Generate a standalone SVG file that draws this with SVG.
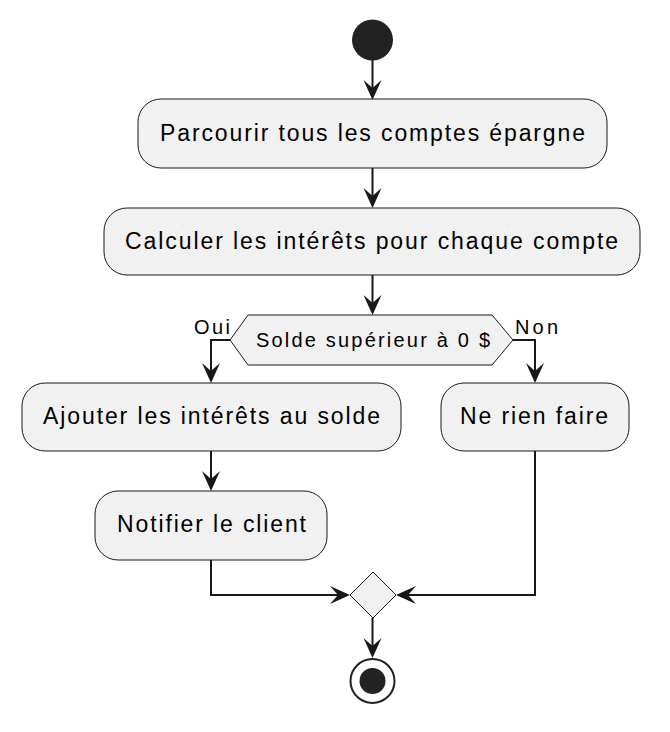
<svg xmlns="http://www.w3.org/2000/svg" width="670" height="732" viewBox="0 0 670 732">
<defs>
<style>
.box{fill:#F1F1F1;stroke:#181818;stroke-width:1}
.t{font-family:"Liberation Sans",Arial,sans-serif;font-size:23px;fill:#000}
.lbl{font-family:"Liberation Sans",Arial,sans-serif;font-size:20px;fill:#000}
.ln{fill:none;stroke:#181818;stroke-width:2}
.ah{fill:#181818}
</style>
</defs>
<rect width="670" height="732" fill="#FFFFFF"/>
<g id="start"><circle cx="372.5" cy="40" r="20.5" fill="#222222"/></g>
<g id="n1"><rect class="box" x="138" y="99" width="469" height="69" rx="23"/><text class="t" x="160" y="141" textLength="425" lengthAdjust="spacing">Parcourir tous les comptes épargne</text></g>
<g id="n2"><rect class="box" x="104" y="208" width="536" height="67" rx="23"/><text class="t" x="125" y="249" textLength="493" lengthAdjust="spacing">Calculer les intérêts pour chaque compte</text></g>
<g id="d1"><polygon class="box" points="230,340 248,315 492,315 513,340 492,365 248,365"/><text class="t" x="256" y="347" style="font-size:20px" textLength="234" lengthAdjust="spacing">Solde supérieur à 0 $</text></g>
<g id="n3"><rect class="box" x="22" y="383" width="379" height="68" rx="23"/><text class="t" x="43" y="424" textLength="337" lengthAdjust="spacing">Ajouter les intérêts au solde</text></g>
<g id="n4"><rect class="box" x="441" y="383" width="188" height="68" rx="23"/><text class="t" x="460" y="424" textLength="148" lengthAdjust="spacing">Ne rien faire</text></g>
<g id="n5"><rect class="box" x="95" y="491" width="232" height="69" rx="23"/><text class="t" x="117" y="532" textLength="189" lengthAdjust="spacing">Notifier le client</text></g>
<g id="merge"><polygon class="box" points="373,572 396,595 373,618 350,595"/></g>
<g id="end"><circle cx="372.5" cy="681" r="22" fill="none" stroke="#222222" stroke-width="2"/><circle cx="372.5" cy="681" r="13" fill="#222222"/></g>
<g id="connectors">
<path class="ln" d="M372.5,60 V90"/>
<polygon class="ah" points="372.5,100 363.5,80 372.5,88 381.5,80"/>
<path class="ln" d="M372.5,168 V198"/>
<polygon class="ah" points="372.5,208 363.5,188 372.5,196 381.5,188"/>
<path class="ln" d="M372.5,275 V305"/>
<polygon class="ah" points="372.5,315 363.5,295 372.5,303 381.5,295"/>
<path class="ln" d="M230,340 H211 V373"/>
<polygon class="ah" points="211,383 202,363 211,371 220,363"/>
<text class="lbl" x="194" y="334" textLength="36" lengthAdjust="spacing">Oui</text>
<path class="ln" d="M513,340 H535 V373"/>
<polygon class="ah" points="535,383 526,363 535,371 544,363"/>
<text class="lbl" x="515" y="334" textLength="43" lengthAdjust="spacing">Non</text>
<path class="ln" d="M211,451 V481"/>
<polygon class="ah" points="211,491 202,471 211,479 220,471"/>
<path class="ln" d="M211,560 V595 H340"/>
<polygon class="ah" points="350,595 330,586 338,595 330,604"/>
<path class="ln" d="M535,451 V595 H406"/>
<polygon class="ah" points="396,595 416,586 408,595 416,604"/>
<path class="ln" d="M372.5,618 V648"/>
<polygon class="ah" points="372.5,658 363.5,638 372.5,646 381.5,638"/>
</g>
</svg>
